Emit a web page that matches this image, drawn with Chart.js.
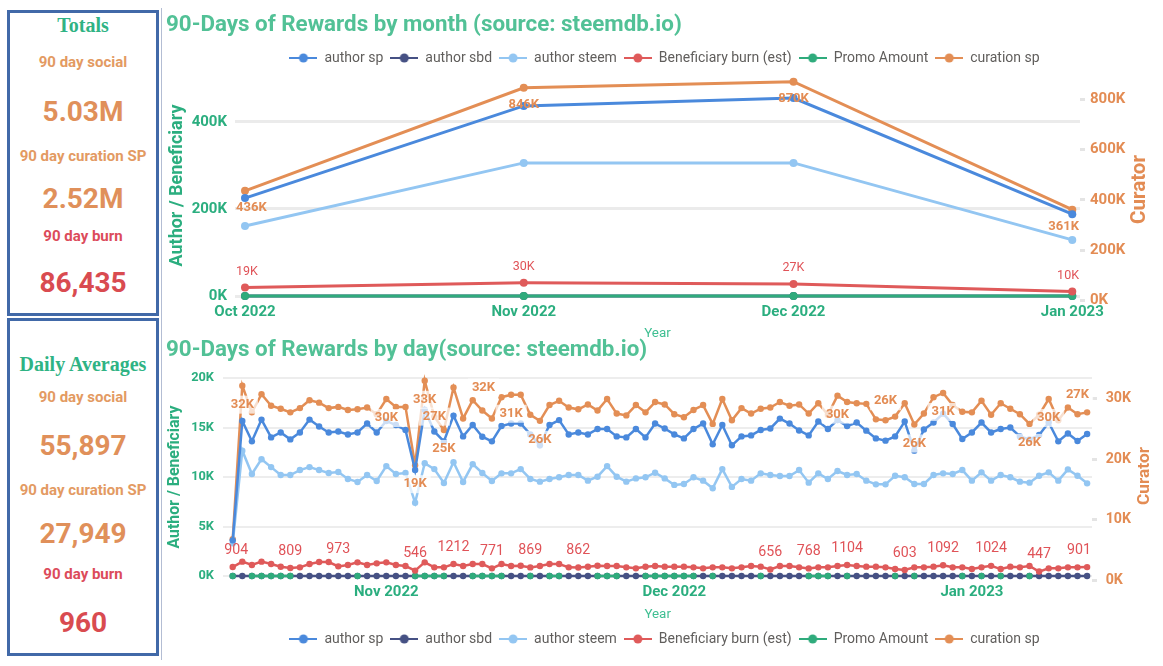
<!DOCTYPE html>
<html><head><meta charset="utf-8">
<title>90-Days of Rewards (source: steemdb.io)</title>
<script src="https://cdn.jsdelivr.net/npm/chart.js@4.4.1/dist/chart.umd.min.js"></script>
<style>
html,body{margin:0;padding:0;background:#fff;}
body{width:1163px;height:666px;position:relative;overflow:hidden;}
.box{position:absolute;border:3px solid #4169a8;box-sizing:border-box;}
.t{position:absolute;left:10px;width:146px;text-align:center;line-height:1;white-space:nowrap;transform:translateY(-50%);font-family:Roboto,sans-serif;font-weight:700;}
.h{font-family:'Liberation Serif',serif;font-size:20px;color:#2fb384;}
.lab{font-size:15px;color:#e39a62;}
.lab.r{color:#dc4b5a;}
.big{font-size:28px;color:#e0905a;}
.big.r{color:#d94b50;}
.cv{position:absolute;left:163px;width:1000px;}
.vline{position:absolute;left:161px;top:8px;width:1px;height:652px;background:#b3bdd3;}
</style></head>
<body>
<div class="box" style="left:7px;top:10px;width:152px;height:306px"></div>
<div class="box" style="left:7px;top:318px;width:152px;height:338px"></div>
<div class="vline"></div>

<div class="t h" style="top:25px">Totals</div>
<div class="t lab" style="top:62px">90 day social</div>
<div class="t big" style="top:112px">5.03M</div>
<div class="t lab" style="top:156px">90 day curation SP</div>
<div class="t big" style="top:199px">2.52M</div>
<div class="t lab r" style="top:236px">90 day burn</div>
<div class="t big r" style="top:283px">86,435</div>

<div class="t h" style="top:364px">Daily Averages</div>
<div class="t lab" style="top:397px">90 day social</div>
<div class="t big" style="top:446px">55,897</div>
<div class="t lab" style="top:490px">90 day curation SP</div>
<div class="t big" style="top:534px">27,949</div>
<div class="t lab r" style="top:574px">90 day burn</div>
<div class="t big r" style="top:623px">960</div>

<div class="cv" style="top:0;height:342px"><canvas id="cMonth" width="1000" height="342"></canvas></div>
<div class="cv" style="top:336px;height:330px"><canvas id="cDay" width="1000" height="330"></canvas></div>

<script>
// ---------------- DATA ----------------
const seriesNames = ['author sp', 'author sbd', 'author steem', 'Beneficiary burn (est)', 'Promo Amount', 'curation sp'];

// Monthly chart
const monthLabels = ['Oct 2022', 'Nov 2022', 'Dec 2022', 'Jan 2023'];
const monthDayOffsets = [0, 31, 61, 92];
const monthAuthorSp = [225000, 437000, 455000, 188000];
const monthAuthorSbd = [0, 0, 0, 0];
const monthAuthorSteem = [161000, 306000, 306000, 129000];
const monthBurn = [19300, 30200, 27300, 10300];
const monthPromo = [0, 0, 0, 0];
const monthCuration = [436000, 846000, 870000, 361000];
const monthLeftTicks = [0, 200000, 400000];
const monthRightTicks = [0, 200000, 400000, 600000, 800000];

// Daily chart: 90 days starting 2022-10-16
const dayStart = [2022, 9, 16];
const authorSpDaily = [
  3600, 15660, 13600, 15800, 14000, 14500, 13800, 14500, 15800, 15100,
  14500, 14600, 14300, 14500, 15400, 14500, 15660, 15250, 14750, 10700,
  16800, 14600, 13600, 16200, 14100, 15250, 14070, 13600, 15150, 15400,
  15400, 14300, 13200, 15250, 15750, 14300, 14500, 14300, 14850, 14850,
  14100, 14000, 14850, 14000, 15400, 14900, 14300, 13900, 14850, 15400,
  13300, 15250, 13200, 14100, 14200, 14750, 14900, 15900, 15400, 14700,
  14200, 15600, 14850, 15750, 15150, 15500, 14680, 13900, 13670, 14100,
  15600, 12660, 14800, 15500, 16400, 15350, 13840, 14500, 15500, 14500,
  14850, 15000, 14100, 13800, 14240, 15500, 13600, 14400, 13640, 14340];
const authorSbdDaily = [
  0, 0, 0, 0, 0, 0, 0, 0, 0, 0,
  0, 0, 0, 0, 0, 0, 0, 0, 0, 0,
  0, 0, 0, 0, 0, 0, 0, 0, 0, 0,
  0, 0, 0, 0, 0, 0, 0, 0, 0, 0,
  0, 0, 0, 0, 0, 0, 0, 0, 0, 0,
  0, 0, 0, 0, 0, 0, 0, 0, 0, 0,
  0, 0, 0, 0, 0, 0, 0, 0, 0, 0,
  0, 0, 0, 0, 0, 0, 0, 0, 0, 0,
  0, 0, 0, 0, 0, 0, 0, 0, 0, 0];
const authorSteemDaily = [
  3300, 12660, 10300, 11800, 11000, 10200, 10200, 10700, 11000, 10700,
  10400, 10500, 9800, 9500, 10200, 9600, 11100, 10300, 10400, 7400,
  11400, 10800, 9400, 11500, 9500, 11300, 10400, 9600, 10370, 10370,
  10800, 9800, 9530, 9800, 9970, 10200, 10200, 9630, 10030, 11100,
  10030, 9530, 9860, 9970, 10430, 9860, 9200, 9300, 9970, 9630,
  8860, 10800, 9000, 9800, 9630, 10370, 10200, 10100, 10100, 10700,
  9430, 10370, 9800, 10600, 10200, 10300, 9630, 9260, 9260, 10130,
  9970, 9300, 9300, 10200, 10370, 10300, 10700, 9630, 10470, 9630,
  10200, 9970, 9530, 9430, 10130, 10470, 9630, 10770, 10130, 9360];
const burnDaily = [
  904, 1450, 1110, 1450, 1210, 940, 809, 875, 1210, 1410,
  1410, 973, 1110, 1380, 1110, 1280, 1380, 1110, 1010, 546,
  1380, 875, 875, 1212, 1010, 1210, 1210, 771, 1210, 1010,
  1040, 869, 1010, 1210, 1210, 875, 862, 940, 1040, 1010,
  1010, 875, 774, 940, 1010, 943, 943, 943, 875, 774,
  875, 875, 774, 875, 1010, 943, 656, 1010, 1010, 875,
  768, 875, 875, 1010, 1104, 1010, 943, 943, 875, 700,
  603, 875, 875, 943, 1092, 875, 875, 700, 875, 1024,
  700, 943, 875, 1010, 447, 774, 774, 875, 875, 901];
const promoDaily = [
  0, null, 0, 0, 0, 0, 0, null, null, null,
  null, null, null, 0, null, null, null, null, null, 0,
  0, 0, 0, null, null, 0, 0, 0, 0, null,
  null, 0, null, 0, 0, null, null, null, 0, 0,
  0, null, null, 0, 0, 0, 0, 0, 0, null,
  0, null, null, null, null, 0, null, null, null, null,
  0, 0, 0, null, 0, null, null, null, null, 0,
  null, 0, null, null, null, null, 0, null, 0, null,
  0, null, null, 0, null, null, null, null, null, null];
const curationDaily = [
  6800, 32100, 27700, 30700, 28800, 28300, 27700, 28400, 29700, 29300,
  28400, 28600, 28100, 28200, 28500, 27400, 29900, 28600, 28600, 19000,
  32900, 27000, 24800, 31800, 26700, 29700, 28000, 26700, 30200, 30600,
  30600, 27300, 26300, 28900, 29600, 28500, 28200, 29000, 28000, 29900,
  27500, 27200, 28900, 27700, 29400, 29000, 27400, 26900, 28100, 28900,
  25800, 29900, 26400, 28400, 27500, 28300, 28500, 29400, 28800, 29000,
  27500, 29200, 27300, 30450, 29400, 29200, 29100, 26550, 26400, 27000,
  29200, 25700, 27500, 30200, 30900, 28900, 27800, 27700, 29600, 27300,
  29200, 28300, 27400, 25800, 27300, 29900, 26400, 28500, 27400, 27700];
const dayLeftTicks = [0, 5000, 10000, 15000, 20000];
const dayRightTicks = [0, 10000, 20000, 30000];

// which points carry a data label, and where it sits
const monthCurationLabelled = [[0, 'below'], [1, 'below'], [2, 'below'], [3, 'below']];
const monthBurnLabelled = [[0, 'above'], [1, 'above'], [2, 'above'], [3, 'above']];
const dayCurationLabelled = [[1, 'below'], [16, 'below'], [19, 'below'], [20, 'below'], [21, 'center'], [22, 'below'],
  [23, 'right'], [29, 'below'], [32, 'below'], [63, 'below'], [68, 'above'], [71, 'below'], [74, 'below'],
  [83, 'below'], [85, 'below'], [88, 'above']];
const dayBurnLabelled = [0, 6, 11, 19, 23, 27, 31, 36, 56, 60, 64, 70, 74, 79, 84, 89].map(i => [i, 'above']);

// ---------------- STYLE ----------------
const colors = ['#4a89dc', '#465184', '#93c6f2', '#df5a5a', '#2fab7c', '#e38e55'];
const GREEN = '#2bae7f', TITLEGREEN = '#52c196', ORANGE = '#e38c54', RED = '#e05358';
const FONT = 'Roboto';

const mctx = document.createElement('canvas').getContext('2d');
function fitSize(text, weight, target) {
  mctx.font = weight + ' 100px ' + FONT;
  return 100 * target / mctx.measureText(text).width;
}
const titleSize = fitSize('90-Days of Rewards by month (source: steemdb.io)', 'bold', 516);
const fmtK = v => Math.round(v / 1000) + 'K';

function legendIcon(color) {
  const c = document.createElement('canvas');
  c.width = 28; c.height = 10;
  const g = c.getContext('2d');
  g.strokeStyle = color; g.lineWidth = 2;
  g.beginPath(); g.moveTo(0, 5); g.lineTo(28, 5); g.stroke();
  g.fillStyle = color; g.beginPath(); g.arc(14, 5, 4.5, 0, Math.PI * 2); g.fill();
  return c;
}
const icons = colors.map(legendIcon);

function makeLabelPlugin(groups) {
  return {
    id: 'pointLabels',
    afterDatasetsDraw(chart) {
      const ctx = chart.ctx, area = chart.chartArea;
      ctx.save();
      ctx.textAlign = 'center'; ctx.textBaseline = 'middle';
      groups.forEach(grp => {
        const meta = chart.getDatasetMeta(grp.dataset);
        const ds = chart.data.datasets[grp.dataset];
        ctx.font = grp.font;
        grp.items.forEach(([idx, pos]) => {
          const el = meta.data[idx];
          if (!el) return;
          const raw = ds.data[idx];
          const val = raw && typeof raw === 'object' ? raw.y : raw;
          const text = grp.format(val);
          const w = ctx.measureText(text).width;
          let x = el.x, y = el.y;
          if (pos === 'above') y -= grp.offset;
          else if (pos === 'below') y += grp.offset;
          else if (pos === 'right') x += grp.side;
          else if (pos === 'left') x -= grp.side;
          x = Math.max(area.left + w / 2 + 1, Math.min(area.right - w / 2 - 1, x));
          if (grp.bg) {
            ctx.fillStyle = grp.bg;
            ctx.fillRect(x - w / 2 - 4, y - 9, w + 8, 18);
          }
          ctx.fillStyle = grp.color;
          ctx.fillText(text, x, y);
        });
      });
      ctx.restore();
    }
  };
}

function makeSideTitle(text, size, x, y) {
  return {
    id: 'sideTitle',
    afterDraw(chart) {
      const ctx = chart.ctx;
      ctx.save();
      ctx.translate(x, y);
      ctx.rotate(-Math.PI / 2);
      ctx.font = 'bold ' + size + 'px ' + FONT;
      ctx.fillStyle = ORANGE;
      ctx.textAlign = 'center'; ctx.textBaseline = 'middle';
      ctx.fillText(text, 0, 0);
      ctx.restore();
    }
  };
}

function legendOpts(position) {
  return {
    display: true, position: position, align: 'center',
    labels: {
      usePointStyle: true, pointStyleWidth: 28, padding: 7,
      color: '#605e5c', font: { family: FONT, size: 14 },
      generateLabels(chart) {
        return Chart.defaults.plugins.legend.labels.generateLabels(chart)
          .sort((a, b) => a.datasetIndex - b.datasetIndex)
          .map(l => Object.assign(l, { pointStyle: icons[l.datasetIndex] }));
      }
    }
  };
}

function buildDatasets(series, xs, lineW, radius) {
  return series.map((arr, k) => ({
    label: seriesNames[k],
    data: arr.map((v, i) => ({ x: xs[i], y: v })),
    yAxisID: k === 5 ? 'yR' : 'y',
    borderColor: colors[k], backgroundColor: colors[k],
    pointBackgroundColor: colors[k], pointBorderWidth: 0,
    borderWidth: lineW, pointRadius: radius, pointHoverRadius: radius,
    spanGaps: false, tension: 0, clip: false, order: k === 1 ? 1 : 0
  }));
}

// ---------------- MONTHLY CHART ----------------
const monthSeries = [monthAuthorSp, monthAuthorSbd, monthAuthorSteem, monthBurn, monthPromo, monthCuration];
new Chart(document.getElementById('cMonth'), {
  type: 'line',
  data: { datasets: buildDatasets(monthSeries, monthDayOffsets, 3, 4) },
  options: {
    responsive: false, animation: false, events: [],
    layout: { padding: { left: 3, right: 0, top: 0, bottom: 0 } },
    scales: {
      x: {
        type: 'linear', min: -1.112, max: 92.86,
        afterBuildTicks: s => { s.ticks = monthDayOffsets.map(v => ({ value: v })); },
        afterFit: s => { s.height = 46; },
        grid: { display: false, drawTicks: false }, border: { display: false },
        ticks: { autoSkip: false, maxRotation: 0, padding: 7.6, color: GREEN,
          font: { family: FONT, size: fitSize('Nov 2022', 'bold', 64.7), weight: 'bold' },
          callback: (v, i) => monthLabels[i] },
        title: { display: true, text: 'Year', color: '#3fbf92', padding: { top: 0, bottom: 0 },
          font: { family: FONT, size: 13.4, lineHeight: 1.2 } }
      },
      y: {
        position: 'left', min: 0, max: 508000,
        afterBuildTicks: s => { s.ticks = monthLeftTicks.map(v => ({ value: v })); },
        afterFit: s => { s.width = 69; },
        grid: { color: '#ebebeb', lineWidth: 3, drawTicks: false }, border: { display: false },
        ticks: { padding: 8, color: GREEN, font: { family: FONT, size: 15, weight: 'bold' }, callback: v => fmtK(v) },
        title: { display: true, text: 'Author / Beneficiary', color: GREEN, padding: { top: 0.6, bottom: 0 },
          font: { family: FONT, size: fitSize('Author / Beneficiary', 'bold', 162), weight: 'bold', lineHeight: 1.2 } }
      },
      yR: {
        position: 'right', min: 17900, max: 896600,
        afterBuildTicks: s => { s.ticks = monthRightTicks.map(v => ({ value: v })); },
        afterFit: s => { s.width = 83; },
        grid: { drawOnChartArea: false, drawTicks: true, tickLength: 5, tickWidth: 3, tickColor: '#e4e4e4' },
        border: { display: false },
        ticks: { padding: 5, color: ORANGE, font: { family: FONT, size: 15, weight: 'bold' }, callback: v => fmtK(v) }
      }
    },
    plugins: {
      title: { display: true, text: '90-Days of Rewards by month (source: steemdb.io)', align: 'start',
        color: TITLEGREEN, padding: { top: 13, bottom: 7 },
        font: { family: FONT, size: titleSize, weight: 'bold', lineHeight: 24 / titleSize } },
      legend: legendOpts('top'),
      tooltip: { enabled: false }
    }
  },
  plugins: [
    makeLabelPlugin([
      { dataset: 5, items: monthCurationLabelled, format: fmtK, offset: 17, side: 26, color: ORANGE, font: 'bold 13px ' + FONT },
      { dataset: 3, items: monthBurnLabelled, format: fmtK, offset: 16, side: 20, color: RED, font: '12.5px ' + FONT }
    ]),
    makeSideTitle('Curator', fitSize('Curator', 'bold', 69), 977, 189.5)
  ]
});

// ---------------- DAILY CHART ----------------
const monthNames = ['Jan', 'Feb', 'Mar', 'Apr', 'May', 'Jun', 'Jul', 'Aug', 'Sep', 'Oct', 'Nov', 'Dec'];
const dayIndex = authorSpDaily.map((_, i) => i);
const dayDates = dayIndex.map(i => new Date(dayStart[0], dayStart[1], dayStart[2] + i));
const dayTickIdx = dayIndex.filter(i => dayDates[i].getDate() === 1);
const dayTickLabels = dayTickIdx.map(i => monthNames[dayDates[i].getMonth()] + ' ' + dayDates[i].getFullYear());
const daySeries = [authorSpDaily, authorSbdDaily, authorSteemDaily, burnDaily, promoDaily, curationDaily];

new Chart(document.getElementById('cDay'), {
  type: 'line',
  data: { datasets: buildDatasets(daySeries, dayIndex, 2.5, 3.2) },
  options: {
    responsive: false, animation: false, events: [],
    layout: { padding: { left: 3, right: 0, top: 0, bottom: 10 } },
    scales: {
      x: {
        type: 'linear', min: -0.98, max: 89.51,
        afterBuildTicks: s => { s.ticks = dayTickIdx.map(v => ({ value: v })); },
        afterFit: s => { s.height = 49; },
        grid: { display: false, drawTicks: false }, border: { display: false },
        ticks: { autoSkip: false, maxRotation: 0, padding: 7.6, color: GREEN,
          font: { family: FONT, size: fitSize('Nov 2022', 'bold', 64.7), weight: 'bold' },
          callback: (v, i) => dayTickLabels[i] },
        title: { display: true, text: 'Year', color: '#3fbf92', padding: { top: 0, bottom: 2 },
          font: { family: FONT, size: 13.4, lineHeight: 1.2 } }
      },
      y: {
        position: 'left', min: 0, max: 20000,
        afterBuildTicks: s => { s.ticks = dayLeftTicks.map(v => ({ value: v })); },
        afterFit: s => { s.width = 57.3; },
        grid: { color: '#ededed', lineWidth: 2, drawTicks: false }, border: { display: false },
        ticks: { padding: 9.3, color: GREEN, font: { family: FONT, size: 12.8, weight: 'bold' }, callback: v => fmtK(v) },
        title: { display: true, text: 'Author / Beneficiary', color: GREEN, padding: { top: 0, bottom: 0 },
          font: { family: FONT, size: fitSize('Author / Beneficiary', 'bold', 143), weight: 'bold', lineHeight: 1.2 } }
      },
      yR: {
        position: 'right', min: 740, max: 33360,
        afterBuildTicks: s => { s.ticks = dayRightTicks.map(v => ({ value: v })); },
        afterFit: s => { s.width = 71; },
        grid: { drawOnChartArea: false, drawTicks: true, tickLength: 5, tickWidth: 3, tickColor: '#e4e4e4' },
        border: { display: false },
        ticks: { padding: 8.7, color: ORANGE, font: { family: FONT, size: 14.2, weight: 'bold' }, callback: v => fmtK(v) }
      }
    },
    plugins: {
      title: { display: true, text: '90-Days of Rewards by day(source: steemdb.io)', align: 'start',
        color: TITLEGREEN, padding: { top: 2, bottom: 16 },
        font: { family: FONT, size: titleSize, weight: 'bold', lineHeight: 24 / titleSize } },
      legend: legendOpts('bottom'),
      tooltip: { enabled: false }
    }
  },
  plugins: [
    makeLabelPlugin([
      { dataset: 5, items: dayCurationLabelled, format: fmtK, offset: 19, side: 30, color: ORANGE,
        font: 'bold 13px ' + FONT, bg: 'rgba(255,255,255,0.72)' },
      { dataset: 3, items: dayBurnLabelled, format: v => String(Math.round(v)), offset: 17, side: 20, color: RED,
        font: '14.2px ' + FONT }
    ]),
    makeSideTitle('Curator', fitSize('Curator', 'bold', 58), 982, 140)
  ]
});
</script>
</body></html>
